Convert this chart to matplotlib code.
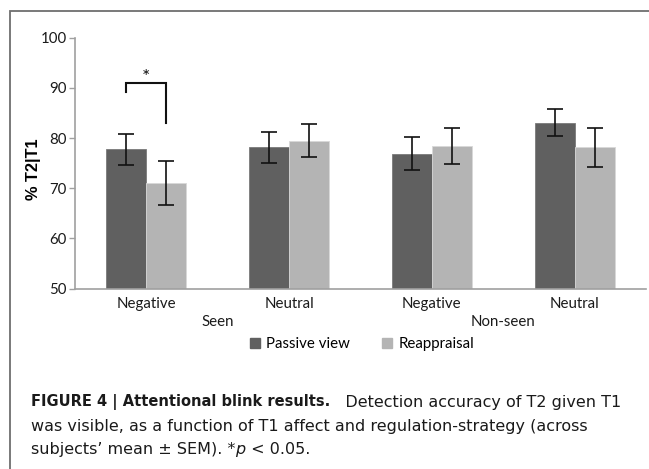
import matplotlib
matplotlib.use("Agg")
import matplotlib.pyplot as plt
import numpy as np
from matplotlib.patches import Rectangle, Patch

categories = ["Negative", "Neutral", "Negative", "Neutral"]
groups = ["Seen", "Non-seen"]
series = ["Passive view", "Reappraisal"]
passive = [77.8, 78.2, 76.9, 83.1]
passive_err = [3.1, 3.1, 3.3, 2.75]
reapp = [71.1, 79.5, 78.5, 78.2]
reapp_err = [4.4, 3.3, 3.6, 3.9]
yticks = [50, 60, 70, 80, 90, 100]

dark = "#606060"
light = "#b4b4b4"
font = "Lato"

fig = plt.figure(figsize=(6.49, 4.69), dpi=100)
ax = fig.add_axes([75/649, 1-288.7/469, (646-75)/649, 251/469])

x = np.arange(len(categories))
w = 0.28
ax.bar(x - w/2, passive, w, color=dark, edgecolor="#7a7a7a", linewidth=0.6,
       yerr=passive_err, capsize=6, error_kw=dict(elinewidth=1.2, capthick=1.2, ecolor="#111111"))
ax.bar(x + w/2, reapp, w, color=light, edgecolor="#d8d8d8", linewidth=0.6,
       yerr=reapp_err, capsize=6, error_kw=dict(elinewidth=1.2, capthick=1.2, ecolor="#111111"))

ax.set_ylim(50, 100)
ax.set_xlim(-0.5, 3.5)
ax.set_yticks(yticks)
ax.set_yticklabels([str(t) for t in yticks], fontfamily=font, fontsize=10.8, color="#1a1a1a")
ax.set_xticks(x)
ax.set_xticklabels(categories, fontfamily=font, fontsize=10.8, color="#1a1a1a")
ax.tick_params(axis="x", length=0, pad=6)
ax.tick_params(axis="y", length=4, width=1, color="#a0a0a0", pad=2)
for s in ["top", "right"]:
    ax.spines[s].set_visible(False)
for s in ["left", "bottom"]:
    ax.spines[s].set_color("#a0a0a0")
    ax.spines[s].set_linewidth(1.2)

ax.set_ylabel("% T2|T1", fontfamily="Liberation Sans", fontweight="bold", fontsize=11.8)
ax.yaxis.set_label_coords((41 - 75) / 571, 0.477)

# group labels
for gx, g in zip([0.5, 2.5], groups):
    ax.text(gx, -0.1315, g, transform=ax.get_xaxis_transform(), ha="center", va="center",
            fontfamily=font, fontsize=10.8, color="#1a1a1a")

# significance bracket
xl, xr = 0 - w/2, 0 + w/2
ax.plot([xl, xl, xr, xr], [89.2, 90.9, 90.9, 83.1], color="#111111", lw=1.5,
        solid_joinstyle="miter", clip_on=False)
ax.text(0, 92.0, "*", ha="center", va="center", fontfamily=font, fontsize=14, color="#111111")

# legend
handles = [Patch(facecolor=dark, edgecolor=dark), Patch(facecolor=light, edgecolor=light)]
fig.legend(handles, series, loc="center", bbox_to_anchor=(362/649, 1-344/469), ncol=2,
           frameon=False, prop=dict(family=font, size=10.8), handlelength=0.7, handleheight=0.7,
           handletextpad=0.4, columnspacing=2.1, borderpad=0)

# figure border
fig.patches.append(Rectangle((10/649, -0.2), 1.2, 1.2 - 11/469, transform=fig.transFigure,
                             fill=False, edgecolor="#6e6e6e", linewidth=1.3, figure=fig))

# caption
cf = "DejaVu Sans"
cs = 11.5
cc = "#1a1a1a"
t1 = fig.text(31/649, 1-402/469, "FIGURE 4 | Attentional blink results.", fontfamily=cf,
              fontweight="bold", fontsize=10.5, va="center", color=cc)
fig.canvas.draw()
ax.annotate("   Detection accuracy of T2 given T1", xy=(1, 0), xycoords=t1, va="bottom",
            fontfamily=cf, fontsize=cs, color=cc, annotation_clip=False)
fig.text(31/649, 1-426/469, "was visible, as a function of T1 affect and regulation-strategy (across",
         fontfamily=cf, fontsize=cs, va="center", color=cc)
t3 = fig.text(31/649, 1-449/469, "subjects\u2019 mean \u00b1 SEM). *", fontfamily=cf, fontsize=cs,
              va="center", color=cc)
t4 = ax.annotate("p", xy=(1, 0), xycoords=t3, va="bottom", fontfamily=cf, fontsize=cs,
                 style="italic", color=cc, annotation_clip=False)
ax.annotate(" < 0.05.", xy=(1, 0), xycoords=t4, va="bottom", fontfamily=cf, fontsize=cs,
            color=cc, annotation_clip=False)

fig.savefig("out.png", dpi=100)
